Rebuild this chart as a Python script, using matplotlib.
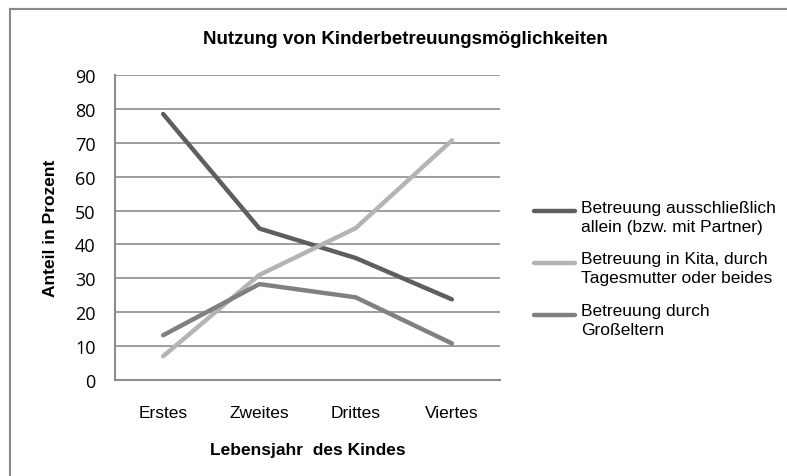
import matplotlib.pyplot as plt
from matplotlib.lines import Line2D
from matplotlib.legend_handler import HandlerLine2D

plt.rcParams['font.family'] = ['Liberation Sans', 'DejaVu Sans']

jahre = ["Erstes", "Zweites", "Drittes", "Viertes"]
allein = [78.5, 44.7, 36.0, 23.8]
kita = [7.0, 31.0, 44.8, 70.7]
grosseltern = [13.2, 28.3, 24.4, 10.8]
namen = ["Betreuung ausschließlich\nallein (bzw. mit Partner)",
         "Betreuung in Kita, durch\nTagesmutter oder beides",
         "Betreuung durch\nGroßeltern"]
farben = ["#5e5e5e", "#b4b4b4", "#808080"]
yticks = list(range(0, 100, 10))


class ObenHandler(HandlerLine2D):
    # Legendenlinie etwas nach oben, Richtung erste Textzeile
    def create_artists(self, legend, orig_handle, xdescent, ydescent,
                       width, height, fontsize, trans):
        arts = super().create_artists(legend, orig_handle, xdescent, ydescent,
                                      width, height, fontsize, trans)
        for a in arts:
            a.set_ydata([y + 0.3 * fontsize for y in a.get_ydata()])
        return arts


W, H = 787, 477
fig = plt.figure(figsize=(W / 100, H / 100), dpi=100)
ax = fig.add_axes([115 / W, 1 - 381 / H, 385 / W, 305 / H])

x = list(range(len(jahre)))
for werte, name, farbe in zip([allein, kita, grosseltern], namen, farben):
    ax.plot(x, werte, color=farbe, lw=3.2, label=name, solid_capstyle='round', zorder=3)

ax.set_xlim(-0.5, 3.5)
ax.set_ylim(0, 90)
ax.set_yticks(yticks)
ax.set_yticklabels([str(v) for v in yticks], fontsize=13, family=['Open Sans', 'DejaVu Sans'])
ax.set_xticks(x)
ax.set_xticklabels(jahre, fontsize=12.5)
ax.tick_params(axis='both', length=0)
ax.tick_params(axis='y', pad=14)
ax.tick_params(axis='x', pad=18)
ax.grid(axis='y', color='#8c8c8c', lw=1.2)
ax.set_axisbelow(True)
for s in ['top', 'right']:
    ax.spines[s].set_visible(False)
for s in ['left', 'bottom']:
    ax.spines[s].set_color('#8c8c8c')
    ax.spines[s].set_linewidth(1.5)

ax.set_xlabel("Lebensjahr  des Kindes", fontsize=12.5, fontweight='bold', labelpad=16)
ax.set_ylabel("Anteil in Prozent", fontsize=12.5, fontweight='bold', labelpad=12)

fig.text(405 / W, 1 - 40 / H, "Nutzung von Kinderbetreuungsmöglichkeiten",
         ha='center', va='center', fontsize=13.5, fontweight='bold')

leg = fig.legend(loc='upper left', bbox_to_anchor=(518 / W, 1 - 185 / H), frameon=False,
                 fontsize=12.5, handlelength=2.4, handletextpad=0.35, labelspacing=1.0,
                 handler_map={Line2D: ObenHandler()})
for t in leg.get_texts():
    t.set_linespacing(1.35)

# Rahmen des Diagrammbereichs
fig.add_artist(Line2D([10 / W, 1], [1 - 10 / H, 1 - 10 / H], color='#8a8a8a', lw=1.5))
fig.add_artist(Line2D([10 / W, 10 / W], [0, 1 - 10 / H], color='#8a8a8a', lw=1.5))

fig.savefig("out.png", dpi=100)
